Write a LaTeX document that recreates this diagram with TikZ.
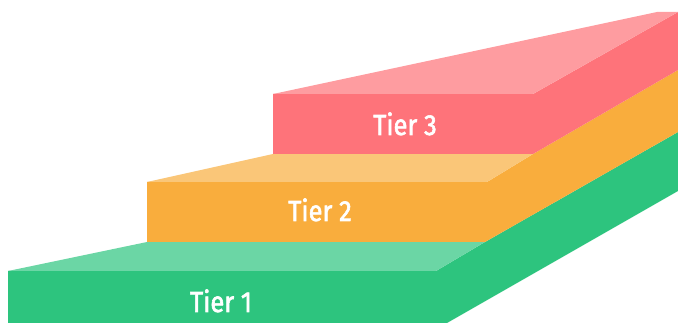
\documentclass[tikz,border=0pt]{standalone}
\usepackage{fontspec}
\newfontfamily\tierfont{Fira Sans}[FakeStretch=0.88, FakeBold=2]
\usepackage{tikz}

\definecolor{redfront}{HTML}{FE737A}
\definecolor{redtop}{HTML}{FE9CA0}
\definecolor{orangefront}{HTML}{F9AD3D}
\definecolor{orangetop}{HTML}{FAC678}
\definecolor{greenfront}{HTML}{2DC47E}
\definecolor{greentop}{HTML}{6BD6A5}

\begin{document}
\begin{tikzpicture}[x=1pt, y=-1pt,
    tierlabel/.style={text=white, inner sep=0pt, anchor=base,
      font=\tierfont\fontsize{29}{29}\selectfont}]

  \useasboundingbox (0,0) rectangle (678,323);

  %% tier 1 (bottom)
  \fill[greenfront] (8,271) -- (436,271) -- (485,242) -- (678,132) -- (678,191)
    -- (447,323) -- (8,323) -- cycle;
  \fill[greentop] (8,271) -- (147,242) -- (485,242) -- (436,271) -- cycle;

  %% tier 2
  \fill[orangefront] (147,182) -- (487,182) -- (533,154) -- (678,70) -- (678,132)
    -- (485,242) -- (147,242) -- cycle;
  \fill[orangetop] (147,182) -- (273,154) -- (533,154) -- (487,182) -- cycle;

  %% tier 3 (top)
  \fill[redfront] (273,94) -- (533,94) -- (678,12) -- (678,70) -- (533,154)
    -- (273,154) -- cycle;
  \fill[redtop] (273,94) -- (657,12) -- (678,12) -- (533,94) -- cycle;

  \node[tierlabel] (tier1) at (221,312) {Tier 1};
  \node[tierlabel] (tier2) at (320,221) {Tier 2};
  \node[tierlabel] (tier3) at (405,135) {Tier 3};
\end{tikzpicture}
\end{document}
